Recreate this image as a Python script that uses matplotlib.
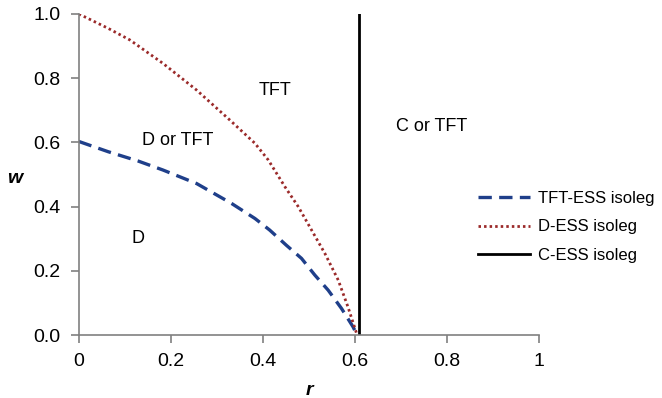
import matplotlib.pyplot as plt

plt.rcParams['font.family'] = ['Liberation Sans', 'DejaVu Sans']

# TFT-ESS isoleg
r_tft = [0.0, 0.064, 0.129, 0.183, 0.256, 0.332, 0.383, 0.415, 0.451, 0.484,
         0.513, 0.542, 0.571, 0.596, 0.605]
w_tft = [0.603, 0.571, 0.542, 0.514, 0.472, 0.410, 0.363, 0.327, 0.280, 0.239,
         0.187, 0.140, 0.083, 0.026, 0.0]

# D-ESS isoleg
r_d = [0.0, 0.064, 0.111, 0.183, 0.256, 0.328, 0.383, 0.412, 0.448, 0.477,
       0.506, 0.535, 0.564, 0.585, 0.605]
w_d = [1.0, 0.955, 0.919, 0.846, 0.763, 0.670, 0.597, 0.545, 0.462, 0.400,
       0.327, 0.254, 0.171, 0.088, 0.0]

# C-ESS isoleg (vertical)
r_c = [0.609, 0.609]
w_c = [0.0, 1.0]

regions = ['TFT', 'D or TFT', 'D', 'C or TFT']
region_r = [0.426, 0.215, 0.128, 0.767]
region_w = [0.761, 0.607, 0.302, 0.648]

fig = plt.figure(figsize=(6.62, 3.98), dpi=100)
ax = fig.add_axes([0.119, 0.158, 0.695, 0.807])

ax.plot(r_tft, w_tft, color='#1f3f8a', linewidth=2.4, linestyle=(0, (4, 2.2)), label='TFT-ESS isoleg')
ax.plot(r_d, w_d, color='#9b2a2a', linewidth=2.0, linestyle=(0, (0.9, 1.1)), label='D-ESS isoleg')
ax.plot(r_c, w_c, color='black', linewidth=2.0, label='C-ESS isoleg')

for name, x, y in zip(regions, region_r, region_w):
    ax.text(x, y, name, fontsize=13, ha='center', va='center')

ax.set_xlim(0, 1)
ax.set_ylim(0, 1)
ax.set_xticks([0, 0.2, 0.4, 0.6, 0.8, 1])
ax.set_xticklabels(['0', '0.2', '0.4', '0.6', '0.8', '1'])
ax.set_yticks([0, 0.2, 0.4, 0.6, 0.8, 1.0])
ax.set_yticklabels(['0.0', '0.2', '0.4', '0.6', '0.8', '1.0'])
ax.tick_params(labelsize=14, color='#808080', length=6, width=1.2, pad=7)
for side in ['top', 'right']:
    ax.spines[side].set_visible(False)
for side in ['left', 'bottom']:
    ax.spines[side].set_color('#808080')
    ax.spines[side].set_linewidth(1.2)

ax.set_xlabel('r', fontsize=14, fontweight='bold', fontstyle='italic')
ax.set_ylabel('w', fontsize=14, fontweight='bold', fontstyle='italic', rotation=0, va='center', ha='center')
ax.xaxis.set_label_coords(0.502, -0.146)
ax.yaxis.set_label_coords(-0.139, 0.489)

fig.legend(loc='center left', bbox_to_anchor=(0.712, 0.43), frameon=False, fontsize=12,
           handlelength=3.1, labelspacing=0.8, handletextpad=0.5, borderaxespad=0)

plt.savefig('out.png')
